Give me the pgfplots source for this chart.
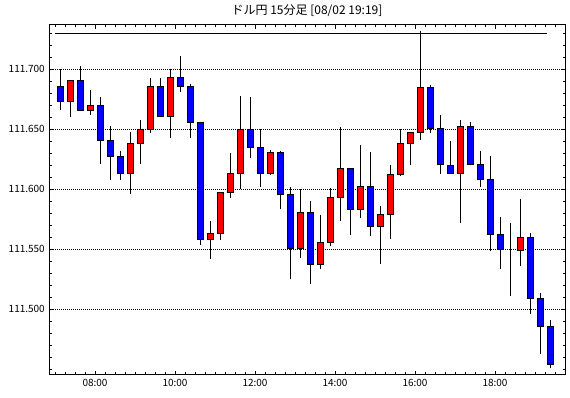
\documentclass[border=0pt]{standalone}
\usepackage{fontspec}
\setmainfont{Noto Sans CJK JP}
\usepackage{pgfplots}
\usepackage{pgfplotstable}
\pgfplotsset{compat=1.18}
\definecolor{upred}{RGB}{255,0,0}
\definecolor{dnblue}{RGB}{0,0,255}

% 15-minute bars: t = bar start (hours), open, high, low, close
\pgfplotstableread{
t o h l c
7.00 111.686 111.700 111.666 111.673
7.25 111.673 111.691 111.660 111.691
7.50 111.691 111.703 111.665 111.666
7.75 111.666 111.683 111.662 111.670
8.00 111.670 111.677 111.621 111.641
8.25 111.641 111.653 111.608 111.627
8.50 111.627 111.632 111.608 111.613
8.75 111.613 111.648 111.596 111.638
9.00 111.638 111.658 111.621 111.650
9.25 111.650 111.693 111.647 111.686
9.50 111.686 111.693 111.661 111.661
9.75 111.661 111.700 111.643 111.693
10.00 111.693 111.711 111.681 111.686
10.25 111.686 111.688 111.643 111.656
10.50 111.656 111.656 111.554 111.558
10.75 111.558 111.574 111.542 111.563
11.00 111.563 111.597 111.558 111.597
11.25 111.597 111.630 111.593 111.613
11.50 111.613 111.678 111.600 111.650
11.75 111.650 111.677 111.626 111.635
12.00 111.635 111.650 111.602 111.613
12.25 111.613 111.633 111.612 111.631
12.50 111.631 111.632 111.584 111.596
12.75 111.596 111.602 111.525 111.551
13.00 111.551 111.600 111.543 111.581
13.25 111.581 111.590 111.521 111.537
13.50 111.537 111.579 111.534 111.556
13.75 111.556 111.601 111.553 111.593
14.00 111.593 111.652 111.574 111.617
14.25 111.617 111.618 111.562 111.583
14.50 111.583 111.637 111.576 111.602
14.75 111.602 111.631 111.561 111.569
15.00 111.569 111.586 111.538 111.579
15.25 111.579 111.620 111.559 111.612
15.50 111.612 111.650 111.611 111.638
15.75 111.638 111.648 111.620 111.647
16.00 111.647 111.732 111.641 111.685
16.25 111.685 111.687 111.647 111.651
16.50 111.651 111.662 111.613 111.621
16.75 111.620 111.640 111.613 111.613
17.00 111.613 111.658 111.572 111.652
17.25 111.652 111.656 111.621 111.621
17.50 111.621 111.632 111.602 111.608
17.75 111.608 111.628 111.549 111.562
18.00 111.562 111.577 111.534 111.550
18.25 111.549 111.572 111.511 111.549
18.50 111.549 111.592 111.536 111.560
18.75 111.560 111.564 111.496 111.509
19.00 111.509 111.514 111.463 111.486
19.25 111.486 111.491 111.451 111.454
}\candles

\pgfplotstableread{
t y
7.00 111.730
19.30 111.730
}\highline

\pgfplotsset{chartgeom/.style={
  width=516pt, height=350pt, scale only axis,
  at={(49pt,23pt)}, anchor=south west,
  xmin=6.85, xmax=19.75, ymin=45.3, ymax=336.9}}

\begin{document}
\begin{tikzpicture}
\useasboundingbox (0pt,0pt) rectangle (570pt,398pt);
\begin{axis}[chartgeom,
  xtick={8,10,12,14,16,18},
  xticklabels={08:00,10:00,12:00,14:00,16:00,18:00},
  minor xtick={7,7.25,...,19.5},
  ytick={100,150,200,250,300},
  yticklabels={111.500,111.550,111.600,111.650,111.700},
  minor ytick={50,60,...,330},
  tick align=inside, tick pos=both,
  major tick length=4pt, minor tick length=2.5pt,
  every tick/.style={black, line width=0.8pt},
  axis line style={black, line width=1pt},
  ymajorgrids,
  major grid style={black, line width=0.9pt, dash pattern=on 1pt off 1pt},
  ticklabel style={font=\fontsize{10}{12}\selectfont},
  yticklabel style={inner sep=0pt, xshift=-4pt},
  xticklabel style={inner sep=0pt, yshift=-4pt},
]
\addplot[only marks, mark=*, mark size=0pt, mark options={draw=none, fill=none},
  error bars/.cd, y dir=plus, y explicit, error mark=none,
  error bar style={draw=black, line width=1pt}]
  table[x expr=\thisrow{t}+0.125, y expr=(\thisrow{l}-111.4)*1000,
        y error expr=(\thisrow{h}-111.4)*1000-(\thisrow{l}-111.4)*1000] {\candles};
\addplot[black, line width=1pt, mark=none]
  table[x=t, y expr=(\thisrow{y}-111.4)*1000] {\highline};
\end{axis}
\begin{axis}[chartgeom, hide axis, ybar stacked, bar width=6pt]
\addplot[draw=none, fill=none]
  table[x expr=\thisrow{t}+0.125, y expr={(min(\thisrow{o},\thisrow{c})-111.4)*1000}] {\candles};
\addplot[fill=upred, draw=black, line width=0.9pt]
  table[x expr=\thisrow{t}+0.125, y expr={max((\thisrow{c}-111.4)*1000-(\thisrow{o}-111.4)*1000,0)}] {\candles};
\addplot[fill=dnblue, draw=black, line width=0.9pt]
  table[x expr=\thisrow{t}+0.125, y expr={max((\thisrow{o}-111.4)*1000-(\thisrow{c}-111.4)*1000,0)}] {\candles};
\end{axis}
\node[font=\fontsize{12}{14}\selectfont, inner sep=0pt] at (307pt,387pt) {ドル円 15分足 [08/02 19:19]};
\end{tikzpicture}
\end{document}
